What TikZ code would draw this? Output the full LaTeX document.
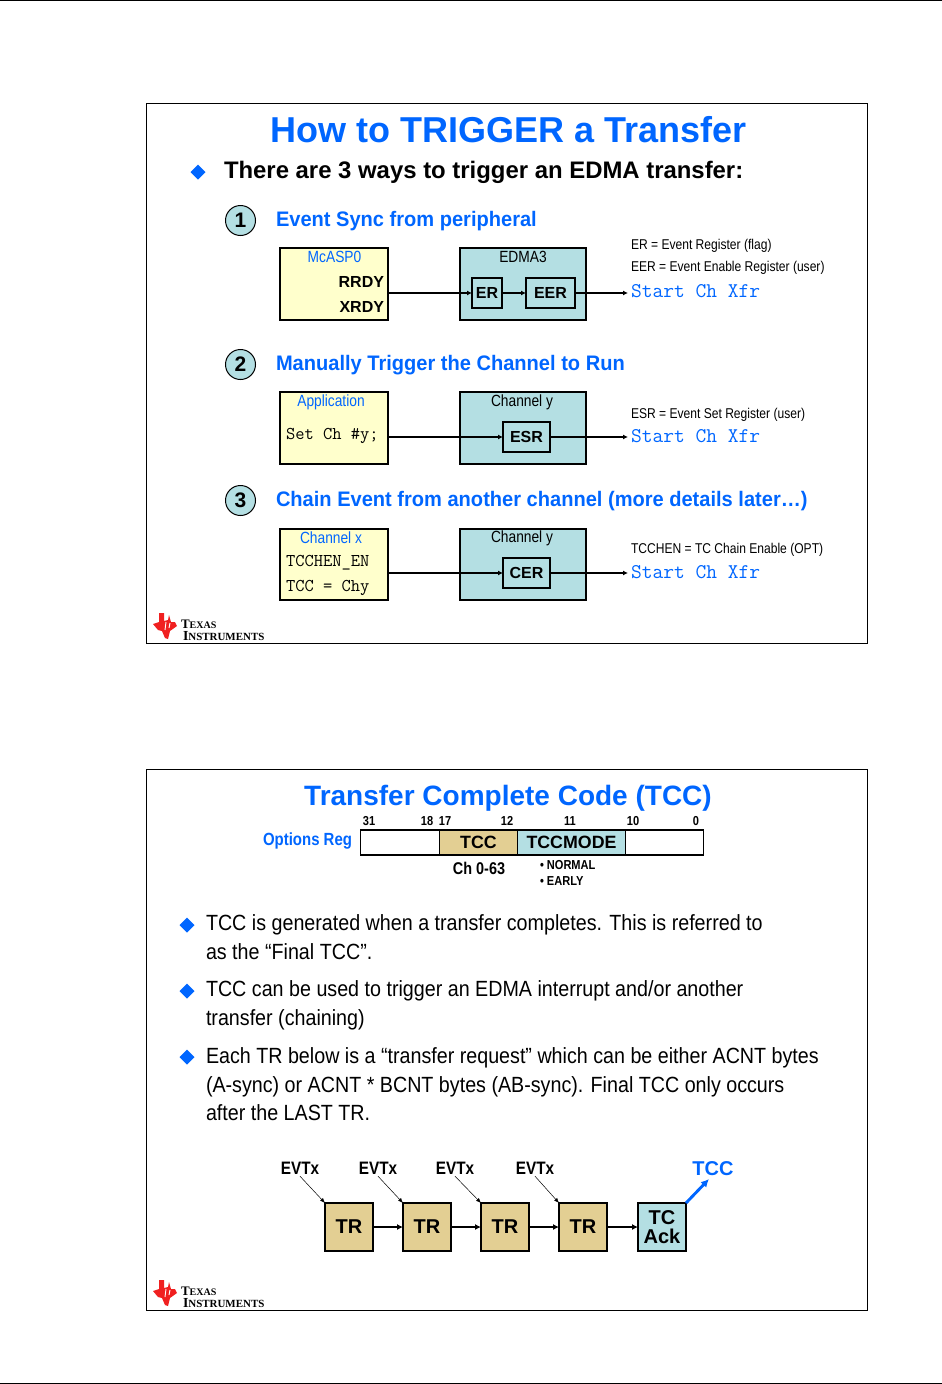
\documentclass[tikz,border=0pt]{standalone}
\usepackage{fontspec}
\setmainfont{Liberation Sans}
\newfontfamily\narrowsf[FakeStretch=0.85]{Liberation Sans}
\newfontfamily\headsf[FakeStretch=0.955]{Liberation Sans}
\newfontfamily\parasf[FakeStretch=0.895]{Liberation Sans}
\newfontfamily\logosf{Liberation Serif}
\usepackage{xcolor}
\definecolor{tiblue}{HTML}{0066FF}
\definecolor{tiyellow}{HTML}{FFFFCC}
\definecolor{ticyan}{HTML}{B4DFE3}
\definecolor{titan}{HTML}{E3CF93}
\definecolor{tired}{HTML}{F02020}
\usetikzlibrary{calc,positioning,arrows.meta,shapes.geometric}
\newcommand{\fsz}[1]{\fontsize{#1}{#1}\selectfont}
\newcommand{\TIlogo}[3]{%
  \begin{scope}[shift={(#2,#3)}]
    \fill[tired] (7,0) -- (12,0) -- (12,8) -- (16,7) -- (17,2) -- (19,9) -- (23,9) -- (25,13)
      -- (18,18) -- (16,26) -- (13,25) -- (10,18) -- (6,17) -- (1,11) -- (7,9) -- cycle;
    \draw[white,line width=0.9pt] (14,9) -- (13,17) (18,10) -- (17,15);
    \node[anchor=base west,inner sep=0pt,font=\logosf\bfseries] (#1t) at (29,15)
      {\fsz{13}T\fsz{10}EXAS};
    \node[anchor=base west,inner sep=0pt,font=\logosf\bfseries] (#1i) at (31,27)
      {\fsz{13.8}I\fsz{10.95}NSTRUMENTS};
  \end{scope}}
\begin{document}
\begin{tikzpicture}[x=1pt,y=-1pt,every node/.style={outer sep=0pt},
    title/.style={font=\fsz{36}\bfseries,text=tiblue,inner sep=0pt},
    head/.style={anchor=west,font=\headsf\bfseries\fsz{21},text=tiblue,inner sep=0pt},
    numc/.style={circle,draw,line width=1pt,fill=ticyan,minimum size=30pt,inner sep=0pt,font=\fsz{21}\bfseries},
    srcbox/.style={rectangle,draw,line width=1.6pt,fill=tiyellow,minimum width=108pt,inner sep=0pt,anchor=north west},
    dmabox/.style={rectangle,draw,line width=1.2pt,fill=ticyan,minimum width=126pt,inner sep=0pt,anchor=north west},
    regbox/.style={rectangle,draw,line width=1.1pt,minimum height=30pt,inner sep=0pt,font=\fsz{16}\bfseries},
    boxcap/.style={font=\narrowsf\fsz{16.2},inner sep=0pt},
    note/.style={anchor=west,font=\narrowsf\fsz{14.2},inner sep=0pt},
    xfr/.style={anchor=west,font=\ttfamily\fsz{20.9},text=tiblue,inner sep=0pt,inner xsep=3pt},
    code/.style={anchor=west,font=\ttfamily\fsz{18},inner sep=0pt},
    flow/.style={-{Latex[length=5pt,width=5pt]},line width=1.2pt},
    bit/.style={font=\narrowsf\bfseries\fsz{13},inner sep=0pt},
    field/.style={rectangle,draw,line width=1.2pt,minimum height=25pt,inner sep=0pt,font=\fsz{17.8}\bfseries,anchor=north west},
    diam/.style={diamond,fill=tiblue,minimum size=15pt,inner sep=0pt},
    para/.style={anchor=north west,align=left,font=\parasf\fontsize{22}{28.5}\selectfont,inner sep=0pt},
    trbox/.style={rectangle,draw,line width=1.4pt,fill=titan,minimum size=48pt,inner sep=0pt,font=\fsz{20}\bfseries},
    evt/.style={font=\narrowsf\bfseries\fsz{18},inner sep=0pt},
    thinarrow/.style={-{Latex[length=5pt,width=4pt]},line width=0.5pt},
    chainarrow/.style={-{Latex[length=6pt,width=6pt]},line width=2pt}]
  \useasboundingbox (0,0) rectangle (942,1384);
  % page rules
  \draw[line width=1pt] (0,0.5) -- (942,0.5);
  \draw[line width=1pt] (0,1383.5) -- (942,1383.5);

  % first slide
  \node[draw,line width=0.8pt,minimum width=721pt,minimum height=540pt,inner sep=0pt,anchor=north west] (slidea) at (146.5,103.5) {};
  \node[title] (titlea) at (508.5,130) {How to TRIGGER a Transfer};
  \node[diam] (dia) at (198,172) {};
  \node[anchor=west,font=\fsz{23.9}\bfseries,inner sep=0pt] (ways) at (224,172) {There are 3 ways to trigger an EDMA transfer:};

  \node[numc] (n1) at (240.5,220.5) {1};
  \node[head] (h1) at (276,221) {Event Sync from peripheral};
  \node[srcbox,minimum height=72pt] (mcasp) at (280,248) {};
  \node[boxcap,text=tiblue] at (334.5,256.5) (mcname) {McASP0};
  \node[anchor=east,font=\fsz{16}\bfseries,inner sep=0pt] (rrdy) at (384,282) {RRDY};
  \node[anchor=east,font=\fsz{16}\bfseries,inner sep=0pt] (xrdy) at (384,307) {XRDY};
  \node[dmabox,minimum height=72pt] (edma) at (460,248) {};
  \node[boxcap] (edmaname) at (523,256.5) {EDMA3};
  \node[regbox,minimum width=30pt] (er) at (487,293) {ER};
  \node[regbox,minimum width=49pt,right=24pt of er] (eer) {EER};
  \node[note] (noteer) at (631,245.5) {ER = Event Register (flag)};
  \node[note] (noteeer) at (631,267.5) {EER = Event Enable Register (user)};
  \node[xfr] (xfra) at (628,291.5) {Start Ch Xfr};
  \draw[flow] (mcasp.east |- er.west) -- (er.west);
  \draw[flow] (er) -- (eer);
  \draw[flow] (eer.east) -- (eer.east -| xfra.west);

  \node[numc] (n2) at (240.5,364.5) {2};
  \node[head] (h2) at (276,365) {Manually Trigger the Channel to Run};
  \node[srcbox,minimum height=72pt] (app) at (280,392) {};
  \node[boxcap,text=tiblue] (appname) at (331,402) {Application};
  \node[code] (setch) at (286,435.5) {Set Ch \#y;};
  \node[dmabox,minimum height=72pt] (chy) at (460,392) {};
  \node[boxcap] (chyname) at (522,402) {Channel y};
  \node[regbox,minimum width=47pt] (esr) at (526.5,437) {ESR};
  \node[note] (noteesr) at (631,414.5) {ESR = Event Set Register (user)};
  \node[xfr] (xfrb) at (628,436) {Start Ch Xfr};
  \draw[flow] (app.east |- esr.west) -- (esr.west);
  \draw[flow] (esr.east) -- (esr.east -| xfrb.west);

  \node[numc] (n3) at (240.5,500.5) {3};
  \node[head] (h3) at (276,501) {Chain Event from another channel (more details later\ldots)};
  \node[srcbox,minimum height=71pt] (chx) at (280,529) {};
  \node[boxcap,text=tiblue] (chxname) at (331,538) {Channel x};
  \node[code] (tcchen) at (286,563) {TCCHEN\_EN};
  \node[code] (tccchy) at (286,587.5) {TCC = Chy};
  \node[dmabox,minimum height=71pt] (chz) at (460,529) {};
  \node[boxcap] (chzname) at (522,538) {Channel y};
  \node[regbox,minimum width=47pt] (cer) at (526.5,573) {CER};
  \node[note] (notetcc) at (631,549.5) {TCCHEN = TC Chain Enable (OPT)};
  \node[xfr] (xfrc) at (628,572) {Start Ch Xfr};
  \draw[flow] (chx.east |- cer.west) -- (cer.west);
  \draw[flow] (cer.east) -- (cer.east -| xfrc.west);
  \TIlogo{loga}{152}{613}

  % second slide
  \node[draw,line width=0.8pt,minimum width=721pt,minimum height=541pt,inner sep=0pt,anchor=north west] (slideb) at (146.5,769.5) {};
  \node[title,font=\fsz{28}\bfseries] (titleb) at (508,798) {Transfer Complete Code (TCC)};
  \node[bit] (b31) at (369,821) {31};
  \node[bit] (b18) at (427,821) {18};
  \node[bit] (b17) at (445,821) {17};
  \node[bit] (b12) at (507,821) {12};
  \node[bit] (b11) at (570,821) {11};
  \node[bit] (b10) at (633,821) {10};
  \node[bit] (b0) at (696,821) {0};
  \node[anchor=east,font=\narrowsf\bfseries\fsz{17.6},text=tiblue,inner sep=0pt] (optreg) at (352,841) {Options Reg};
  \node[field,minimum width=79pt] (f1) at (360.5,830) {};
  \node[field,minimum width=78pt,fill=titan,anchor=west] (f2) at (f1.east) {TCC};
  \node[field,minimum width=108pt,fill=ticyan,anchor=west] (f3) at (f2.east) {TCCMODE};
  \node[field,minimum width=78pt,anchor=west] (f4) at (f3.east) {};
  \node[font=\narrowsf\bfseries\fsz{17},inner sep=0pt] (chan) at (479,868) {Ch 0-63};
  \node[anchor=west,font=\narrowsf\bfseries\fsz{13},inner sep=0pt] (normal) at (540,865) {• NORMAL};
  \node[anchor=west,font=\narrowsf\bfseries\fsz{13},inner sep=0pt] (early) at (540,881) {• EARLY};

  \node[diam] (d1) at (187,925) {};
  \node[para] (p1) at (206,915) {TCC is generated when a transfer completes. This is referred to\\as the “Final TCC”.};
  \node[diam] (d2) at (187,991) {};
  \node[para] (p2) at (206,981) {TCC can be used to trigger an EDMA interrupt and/or another\\transfer (chaining)};
  \node[diam] (d3) at (187,1057) {};
  \node[para] (p3) at (206,1048) {Each TR below is a “transfer request” which can be either ACNT bytes\\(A-sync) or ACNT * BCNT bytes (AB-sync). Final TCC only occurs\\after the LAST TR.};

  \node[trbox] (tr1) at (349,1227) {TR};
  \node[trbox,right=30pt of tr1] (tr2) {TR};
  \node[trbox,right=30pt of tr2] (tr3) {TR};
  \node[trbox,right=30pt of tr3] (tr4) {TR};
  \node[trbox,fill=ticyan,right=31pt of tr4,align=center,font=\fontsize{20}{19.5}\bfseries\selectfont] (ack) {TC\\Ack};
  \node[evt] (e1) at (300,1168) {EVTx};
  \node[evt] (e2) at (378,1168) {EVTx};
  \node[evt] (e3) at (455,1168) {EVTx};
  \node[evt] (e4) at (535,1168) {EVTx};
  \node[font=\fsz{20}\bfseries,text=tiblue,inner sep=0pt] (tcclab) at (713,1169) {TCC};
  \coordinate (tcctip) at (709,1179);
  \draw[chainarrow] (tr1) -- (tr2);
  \draw[chainarrow] (tr2) -- (tr3);
  \draw[chainarrow] (tr3) -- (tr4);
  \draw[chainarrow] (tr4) -- (ack);
  \draw[thinarrow] (e1.south) ++(0,2) -- (tr1.north west);
  \draw[thinarrow] (e2.south) ++(0,2) -- (tr2.north west);
  \draw[thinarrow] (e3.south) ++(0,2) -- (tr3.north west);
  \draw[thinarrow] (e4.south) ++(0,2) -- (tr4.north west);
  \draw[-{Latex[length=8pt,width=8pt]},line width=2.9pt,draw=tiblue,fill=tiblue] (ack.north east) -- (tcctip);
  \TIlogo{logb}{152}{1280}
\end{tikzpicture}
\end{document}
